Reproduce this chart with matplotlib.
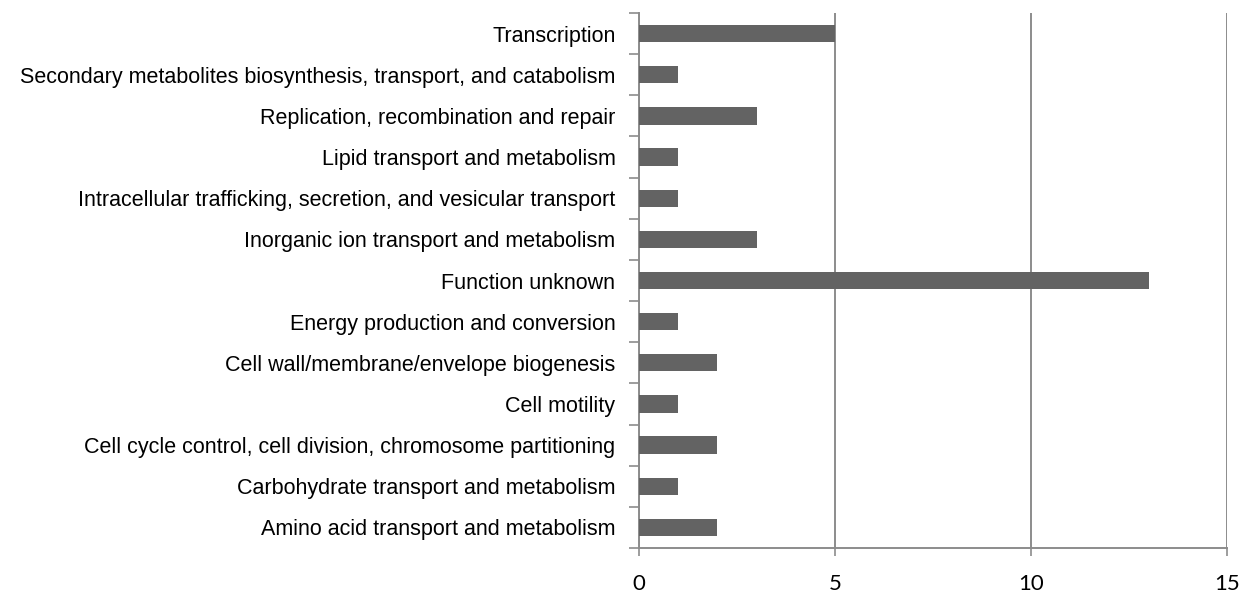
import matplotlib
matplotlib.use("Agg")
import matplotlib.pyplot as plt

categories = [
    "Amino acid transport and metabolism",
    "Carbohydrate transport and metabolism",
    "Cell cycle control, cell division, chromosome partitioning",
    "Cell motility",
    "Cell wall/membrane/envelope biogenesis",
    "Energy production and conversion",
    "Function unknown",
    "Inorganic ion transport and metabolism",
    "Intracellular trafficking, secretion, and vesicular transport",
    "Lipid transport and metabolism",
    "Replication, recombination and repair",
    "Secondary metabolites biosynthesis, transport, and catabolism",
    "Transcription",
]
counts = [2, 1, 2, 1, 2, 1, 13, 3, 1, 1, 3, 1, 5]
x_ticks = [0, 5, 10, 15]

fig = plt.figure(figsize=(12.51, 5.97), dpi=100)
ax = fig.add_axes([639 / 1251, 1 - 548 / 597, (1227 - 639) / 1251, (548 - 13) / 597])

ypos = list(range(len(categories)))
ax.barh(ypos, counts, height=0.42, color="#636363", zorder=3)

ax.set_xlim(0, 15)
ax.set_ylim(-0.5, len(categories) - 0.5)
ax.set_xticks(x_ticks)
ax.set_xticklabels([str(t) for t in x_ticks], fontfamily="Lato", fontsize=16)
ax.grid(axis="x", color="#8c8c8c", linewidth=1.4, zorder=1)

ax.set_yticks(ypos)
ax.set_yticklabels(categories, fontfamily="Liberation Sans", fontsize=15.5)
ax.set_yticks([i - 0.5 for i in range(len(categories) + 1)], minor=True)
ax.tick_params(axis="y", which="major", length=0, pad=17)
ax.tick_params(axis="y", which="minor", length=7, width=1.2, color="#8c8c8c")
ax.tick_params(axis="x", length=6, width=1.2, color="#8c8c8c", pad=13)

for side in ["top", "right"]:
    ax.spines[side].set_visible(False)
for side in ["left", "bottom"]:
    ax.spines[side].set_color("#8c8c8c")
    ax.spines[side].set_linewidth(1.4)

fig.savefig("out.png", dpi=100)
